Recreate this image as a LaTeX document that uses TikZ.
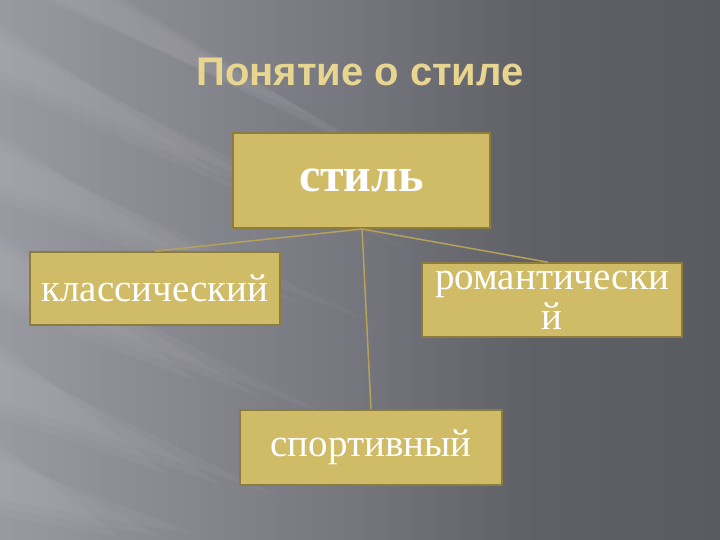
\documentclass[tikz,border=0pt]{standalone}
\usepackage{fontspec}
\setmainfont{Liberation Serif}
\newfontfamily\titlefont{Liberation Sans}
\definecolor{boxfill}{HTML}{D0BB66}
\definecolor{boxline}{HTML}{8C7C40}
\definecolor{linkc}{HTML}{B5A25A}
\definecolor{titlec}{HTML}{E8D690}
\definecolor{bgl}{HTML}{A0A0A8}
\definecolor{bgm}{HTML}{75757D}
\definecolor{bgr}{HTML}{5A5A61}
\pgfdeclarehorizontalshading{bgshade}{100bp}{color(0bp)=(bgl); color(25bp)=(bgl!85!bgm); color(50bp)=(bgm); color(62bp)=(bgr!80!bgm); color(75bp)=(bgr); color(100bp)=(bgr!92!black)}
\begin{document}
\begin{tikzpicture}[x=1pt,y=-1pt,
  stylebox/.style={draw=boxline, line width=1.6pt, fill=boxfill, text=white,
    inner sep=0pt, align=center, font=\fontsize{39}{40}\selectfont},
  link/.style={draw=linkc, line width=1.5pt},
  streak/.style={fill=white, fill opacity=0.035}]
\useasboundingbox (0,0) rectangle (720,540);
\shade[shading=bgshade] (0,0) rectangle (720,540);
% soft light streaks, tapering to the right
\foreach \a/\b/\c/\d in {40/70/420/255, 150/185/380/325, 250/290/330/416, 360/400/280/497, 460/500/200/535}{
  \foreach \w/\l in {0/1, 8/0.8, 16/0.6}{
    \fill[streak] (0,\a-\w) -- (0,\b+\w) -- ({\c*\l},{(\b+\w)+(\d-\b)*\l}) -- cycle;
  }
}
\foreach \w/\l in {0/1, 8/0.8, 16/0.6}{
  \fill[streak] (60-\w,0) -- (110+\w,0) -- ({110+350*\l},{200*\l}) -- cycle;
}
% title
\node[text=titlec, font=\titlefont\bfseries\fontsize{40}{44}\selectfont] (title) at (360,72) {Понятие о стиле};
% boxes
\node[stylebox, minimum width=257pt, minimum height=95pt,
  font=\bfseries\fontsize{48}{50}\selectfont] (stil) at (361.5,180.5) {стиль};
\node[stylebox, minimum width=250pt, minimum height=73pt] (klass) at (155,288.5) {классический};
\node[stylebox, minimum width=260pt, minimum height=74pt] (rom) at (552,300) {романтически\\й};
\node[stylebox, minimum width=262pt, minimum height=75pt] (sport) at (371,447.5) {спортивный};
% connectors
\coordinate (hub) at (362,229);
\draw[link] (hub) -- (klass.north);
\draw[link] (hub) -- ([xshift=-4pt]rom.north);
\draw[link] (hub) -- (sport.north);
\end{tikzpicture}
\end{document}
